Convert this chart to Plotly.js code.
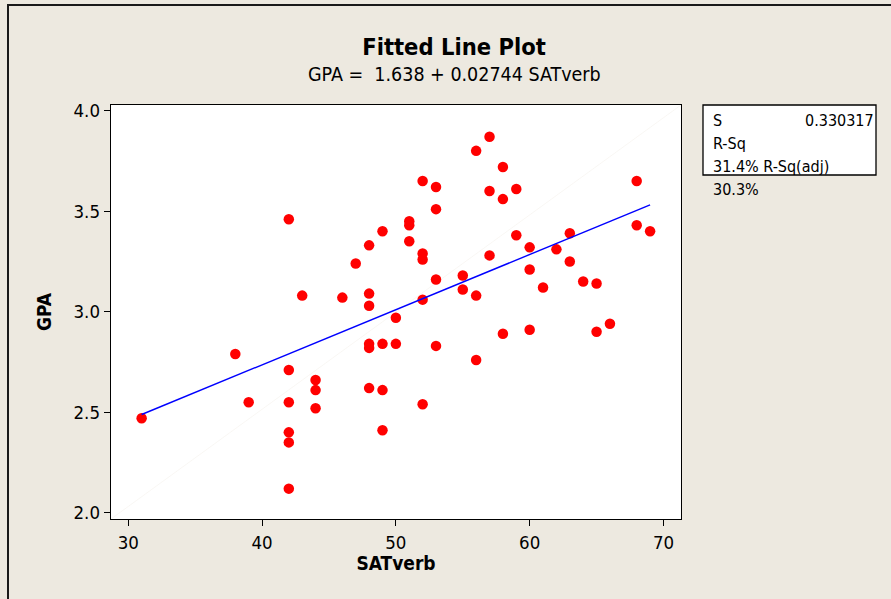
<!DOCTYPE html>
<html>
<head>
<meta charset="utf-8">
<script src="https://cdn.plot.ly/plotly-3.0.1.min.js"></script>
<style>
  html, body { margin: 0; padding: 0; background: #EDE9E0; }
  #chart { width: 891px; height: 599px; }
</style>
</head>
<body>
<div id="chart"></div>
<script>
// ---- Data ----
const satVerb = [31, 38, 39, 42, 42, 42, 42, 42, 42, 43, 44, 44, 44, 46, 47,
  48, 48, 48, 48, 48, 48, 49, 49, 49, 49, 50, 50, 51, 51, 51,
  52, 52, 52, 52, 52, 53, 53, 53, 53, 55, 55, 56, 56, 56, 57,
  57, 57, 58, 58, 58, 59, 59, 60, 60, 60, 61, 62, 63, 63, 64,
  65, 65, 66, 68, 68, 69];
const gpa = [2.47, 2.79, 2.55, 3.46, 2.71, 2.55, 2.40, 2.35, 2.12, 3.08, 2.66, 2.61, 2.52, 3.07, 3.24,
  3.33, 3.09, 3.03, 2.84, 2.82, 2.62, 3.40, 2.84, 2.61, 2.41, 2.97, 2.84, 3.45, 3.43, 3.35,
  3.65, 3.29, 3.26, 3.06, 2.54, 3.62, 3.51, 3.16, 2.83, 3.18, 3.11, 3.80, 3.08, 2.76, 3.87,
  3.60, 3.28, 3.72, 3.56, 2.89, 3.61, 3.38, 3.32, 3.21, 2.91, 3.12, 3.31, 3.39, 3.25, 3.15,
  3.14, 2.90, 2.94, 3.65, 3.43, 3.40];

// Regression coefficients and summary statistics shown in the chart
const intercept = 1.638;
const slope = 0.02744;
const statLabels = ["S", "R-Sq", "31.4% R-Sq(adj)", "30.3%"];
const statValue = "0.330317";

const xTickVals = [30, 40, 50, 60, 70];
const yTickVals = [2.0, 2.5, 3.0, 3.5, 4.0];

// Fitted line spans the observed SATverb range
const fitX = [Math.min(...satVerb), Math.max(...satVerb)];
const fitY = fitX.map(v => intercept + slope * v);

const FONT = '"DejaVu Sans Condensed", "DejaVu Sans", sans-serif';
const BG = '#EDE9E0';

const traces = [
  {
    x: satVerb, y: gpa, type: 'scatter', mode: 'markers',
    marker: { color: '#FF0000', size: 10.5 },
    showlegend: false, hoverinfo: 'x+y'
  },
  {
    x: fitX, y: fitY, type: 'scatter', mode: 'lines',
    line: { color: '#0000FF', width: 1.4 },
    showlegend: false, hoverinfo: 'skip'
  }
];

// helpers to convert pixel positions to paper coordinates
const L = 111, T = 105, W = 570, H = 414;
const px = v => (v - L) / W;
const py = v => (T + H - v) / H;

const STAT = { family: FONT, size: 16, color: '#000' };

const layout = {
  width: 891, height: 599,
  paper_bgcolor: BG, plot_bgcolor: '#FFFFFF',
  margin: { l: L, r: 891 - L - W, t: T, b: 599 - T - H, pad: 0 },
  font: { family: FONT, color: '#000000' },
  title: {
    text: '<b>Fitted Line Plot</b>',
    font: { family: FONT, size: 23.5, color: '#000000' },
    xref: 'container', yref: 'container',
    x: 454 / 891, y: 1 - 47 / 599, xanchor: 'center', yanchor: 'middle'
  },
  xaxis: {
    range: [28.71, 71.31], tickvals: xTickVals, ticktext: xTickVals.map(String),
    ticks: 'outside', ticklen: 6, tickwidth: 1, tickcolor: '#000',
    showline: true, mirror: true, linecolor: '#000', linewidth: 1.3,
    showgrid: false, zeroline: false,
    tickfont: { family: FONT, size: 18.5, color: '#000' },
    title: { text: '<b>SATverb</b>', font: { family: FONT, size: 19, color: '#000' }, standoff: 3 }
  },
  yaxis: {
    range: [1.969, 4.028], tickvals: yTickVals, ticktext: yTickVals.map(v => v.toFixed(1)),
    ticks: 'outside', ticklen: 6, tickwidth: 1, tickcolor: '#000',
    showline: true, mirror: true, linecolor: '#000', linewidth: 1.3,
    showgrid: false, zeroline: false,
    tickfont: { family: FONT, size: 18.5, color: '#000' },
    title: { text: '<b>GPA</b>', font: { family: FONT, size: 19, color: '#000' }, standoff: 17 }
  },
  shapes: [
    // outer frame
    { type: 'rect', xref: 'paper', yref: 'paper', x0: px(8), x1: px(950), y0: py(650), y1: py(5),
      line: { color: '#1a1a1a', width: 2 }, fillcolor: 'rgba(0,0,0,0)', layer: 'below' },
    // faint diagonal across the plot area
    { type: 'line', xref: 'paper', yref: 'paper', x0: 0, y0: 0, x1: 1, y1: 1,
      line: { color: '#F5F2EC', width: 0.6 }, layer: 'below' },
    // stats box
    { type: 'rect', xref: 'paper', yref: 'paper', x0: px(703), x1: px(876), y0: py(175), y1: py(105),
      line: { color: '#000', width: 1.3 }, fillcolor: '#FFFFFF' }
  ],
  annotations: [
    { text: 'GPA = \u00a01.638 + 0.02744 SATverb', xref: 'paper', yref: 'paper',
      x: px(454), y: py(75), xanchor: 'center', yanchor: 'middle', showarrow: false,
      font: { family: FONT, size: 19.5, color: '#000' } },
    { text: statLabels[0], xref: 'paper', yref: 'paper', x: px(711), y: py(120),
      xanchor: 'left', yanchor: 'middle', showarrow: false, font: STAT },
    { text: statValue, xref: 'paper', yref: 'paper', x: px(876), y: py(120),
      xanchor: 'right', yanchor: 'middle', showarrow: false, font: STAT },
    { text: statLabels[1], xref: 'paper', yref: 'paper', x: px(711), y: py(143),
      xanchor: 'left', yanchor: 'middle', showarrow: false, font: STAT },
    { text: statLabels[2], xref: 'paper', yref: 'paper', x: px(711), y: py(166),
      xanchor: 'left', yanchor: 'middle', showarrow: false, font: STAT },
    { text: statLabels[3], xref: 'paper', yref: 'paper', x: px(711), y: py(189),
      xanchor: 'left', yanchor: 'middle', showarrow: false, font: STAT }
  ]
};

Plotly.newPlot('chart', traces, layout, { displayModeBar: false, staticPlot: true });
</script>
</body>
</html>
